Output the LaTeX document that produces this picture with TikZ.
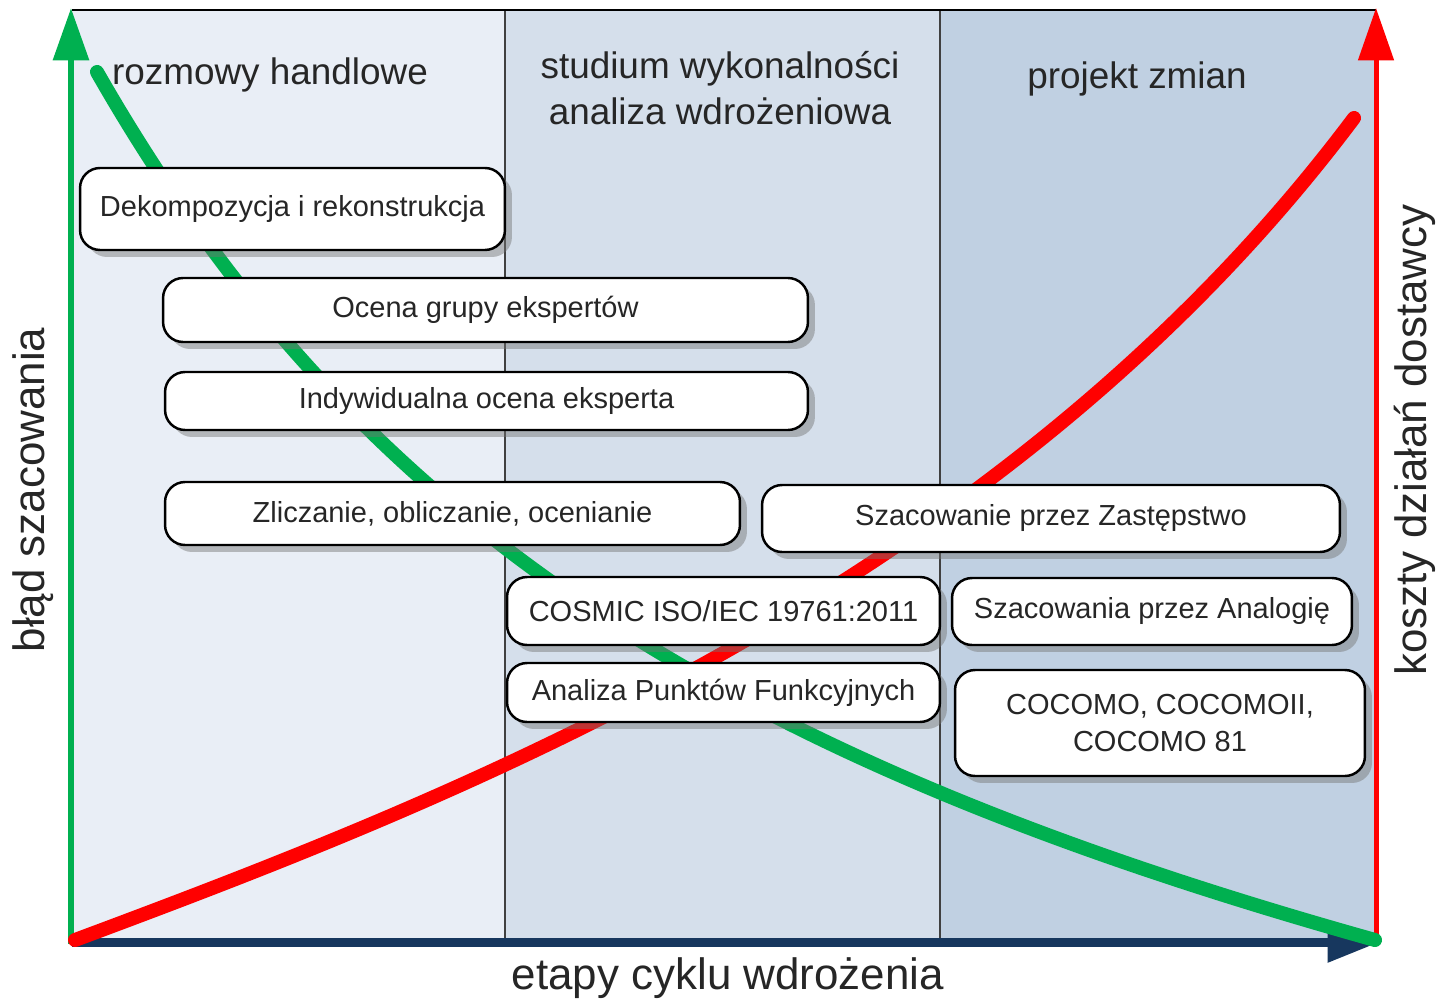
\documentclass[tikz,border=0pt]{standalone}
\usepackage{fontspec}
\setmainfont{Liberation Sans}
\usetikzlibrary{arrows.meta,shadows}

\definecolor{bandA}{HTML}{E9EEF6}
\definecolor{bandB}{HTML}{D5DFEB}
\definecolor{bandC}{HTML}{C0D0E2}
\definecolor{errgreen}{HTML}{00B050}
\definecolor{costred}{HTML}{FF0000}
\definecolor{axisblue}{HTML}{17375E}
\definecolor{txtgray}{HTML}{262626}

\begin{document}
\begin{tikzpicture}[x=0.02cm, y=-0.02cm,
			method/.style={draw=black, line width=1.4pt, rounded corners=0.4cm, fill=white,
				text=txtgray, align=center, inner sep=0pt,
				font=\fontsize{16.5}{21}\selectfont,
				drop shadow={shadow xshift=0.14cm, shadow yshift=-0.14cm, opacity=0.45, fill=black!55}},
			phase/.style={text=txtgray, align=center, font=\fontsize{21}{26}\selectfont},
			axislabel/.style={text=txtgray, font=\fontsize{25}{30}\selectfont},
			curve/.style={line width=0.28cm, line cap=round, line join=round}]

		\useasboundingbox (0,0) rectangle (1443,1003);

		% tla etapow
		\fill[bandA] (72,10) rectangle (505,942);
		\fill[bandB] (505,10) rectangle (940,942);
		\fill[bandC] (940,10) rectangle (1376,942);
		\draw[black!75, line width=0.6pt] (505,10) -- (505,942);
		\draw[black!75, line width=0.6pt] (940,10) -- (940,942);
		\draw[black, line width=1.2pt] (72,10) -- (1376,10);

		% osie
		\coordinate (origin) at (71,944);
		\coordinate (errtop) at (71,8);
		\coordinate (costbot) at (1376,944);
		\coordinate (costtop) at (1376,8);
		\coordinate (stagestart) at (72,942);
		\coordinate (stageend) at (1380,942);

		\draw[errgreen, line width=0.13cm, -{Triangle[width=0.7cm, length=1.05cm]}] (origin) -- (errtop);
		\draw[costred, line width=0.1cm, -{Triangle[width=0.7cm, length=1.05cm]}] (costbot) -- (costtop);
		\draw[axisblue, line width=0.18cm, -{Triangle[width=0.78cm, length=1.05cm]}] (stagestart) -- (stageend);

		% krzywe
		\draw[curve, costred] (75,940) .. controls (450,800) and (1000,590) .. (1354,118);
		\draw[curve, errgreen] (97,72) .. controls (357,527) and (725,758) .. (1375,940);

		% metody
		\node[method, minimum width=8.5cm, minimum height=1.64cm] (dekomp) at (292.5,209) {Dekompozycja i rekonstrukcja};
		\node[method, minimum width=12.9cm, minimum height=1.28cm] (grupa) at (485.5,310) {Ocena grupy ekspertów};
		\node[method, minimum width=12.86cm, minimum height=1.16cm] (indyw) at (486.5,401) {Indywidualna ocena eksperta};
		\node[method, minimum width=11.5cm, minimum height=1.26cm] (zlicz) at (452.5,513.5) {Zliczanie, obliczanie, ocenianie};
		\node[method, minimum width=11.56cm, minimum height=1.34cm] (zastep) at (1051,518.5) {Szacowanie przez Zastępstwo};
		\node[method, minimum width=8.66cm, minimum height=1.36cm] (cosmic) at (723.5,611) {COSMIC ISO/IEC 19761:2011};
		\node[method, minimum width=8cm, minimum height=1.34cm] (analog) at (1152,611.5) {Szacowania przez Analogię};
		\node[method, minimum width=8.66cm, minimum height=1.18cm] (apf) at (723.5,692.5) {Analiza Punktów Funkcyjnych};
		\node[method, minimum width=8.2cm, minimum height=2.12cm] (cocomo) at (1160,723) {COCOMO, COCOMOII,\\COCOMO 81};

		% etapy
		\node[phase] (rozmowy) at (270,75) {rozmowy handlowe};
		\node[phase] (studium) at (720,88) {studium wykonalności\\analiza wdrożeniowa};
		\node[phase] (projekt) at (1137,79) {projekt zmian};

		% opisy osi
		\node[axislabel] (etapy) at (728,978) {etapy cyklu wdrożenia};
		\node[axislabel, rotate=90] (blad) at (33,490) {błąd szacowania};
		\node[axislabel, rotate=90] (koszty) at (1415,440) {koszty działań dostawcy};
	\end{tikzpicture}
\end{document}
